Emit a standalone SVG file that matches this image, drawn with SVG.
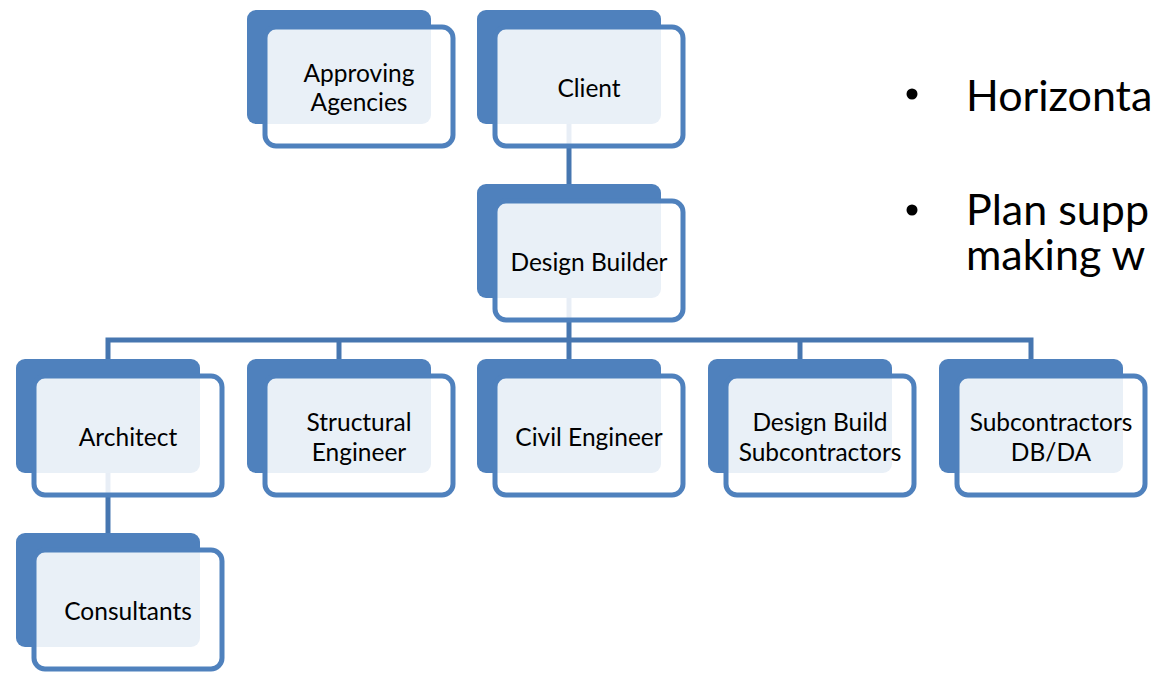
<svg xmlns="http://www.w3.org/2000/svg" width="1152" height="678" viewBox="0 0 1152 678">
  <style>
    .back { fill: #4F81BD; }
    .front { fill: #FFFFFF; fill-opacity: 0.88; stroke: #4F81BD; stroke-width: 5; }
    .link { fill: none; stroke: #4676B0; stroke-width: 5; }
    .label { font-family: Lato, "Liberation Sans", sans-serif; font-size: 24.5px; fill: #000000; text-anchor: middle; dominant-baseline: central; }
    .bullet-text { font-family: Lato, "Liberation Sans", sans-serif; font-size: 43px; fill: #000000; }
  </style>
  <rect width="1152" height="678" fill="#FFFFFF"/>

  <!-- back plates -->
  <g id="plates">
    <rect class="back" x="247" y="10" width="184" height="114" rx="9"/>
    <rect class="back" x="477" y="10" width="184" height="114" rx="9"/>
    <rect class="back" x="477" y="184" width="184" height="114" rx="9"/>
    <rect class="back" x="16" y="359" width="184" height="114" rx="9"/>
    <rect class="back" x="247" y="359" width="184" height="114" rx="9"/>
    <rect class="back" x="477" y="359" width="184" height="114" rx="9"/>
    <rect class="back" x="708" y="359" width="184" height="114" rx="9"/>
    <rect class="back" x="939" y="359" width="184" height="114" rx="9"/>
    <rect class="back" x="16" y="533" width="184" height="114" rx="9"/>
  </g>

  <!-- connectors -->
  <g id="connectors">
    <path class="link" d="M569 124 V184"/>
    <path class="link" d="M569 298 V340"/>
    <path class="link" d="M108 359 V340 H1031 V359"/>
    <path class="link" d="M339 340 V359"/>
    <path class="link" d="M569 340 V359"/>
    <path class="link" d="M800 340 V359"/>
    <path class="link" d="M108 473 V533"/>
  </g>

  <g id="approving-agencies">
    <rect class="front" x="265" y="27" width="188" height="119" rx="11"/>
    <text class="label" x="359" y="72">Approving</text>
    <text class="label" x="359" y="101">Agencies</text>
  </g>
  <g id="client">
    <rect class="front" x="495" y="27" width="188" height="119" rx="11"/>
    <text class="label" x="589" y="87">Client</text>
  </g>
  <g id="design-builder">
    <rect class="front" x="495" y="201" width="188" height="119" rx="11"/>
    <text class="label" x="589" y="261">Design Builder</text>
  </g>
  <g id="architect">
    <rect class="front" x="34" y="376" width="188" height="119" rx="11"/>
    <text class="label" x="128" y="436">Architect</text>
  </g>
  <g id="structural-engineer">
    <rect class="front" x="265" y="376" width="188" height="119" rx="11"/>
    <text class="label" x="359" y="421">Structural</text>
    <text class="label" x="359" y="451">Engineer</text>
  </g>
  <g id="civil-engineer">
    <rect class="front" x="495" y="376" width="188" height="119" rx="11"/>
    <text class="label" x="589" y="436">Civil Engineer</text>
  </g>
  <g id="design-build-subcontractors">
    <rect class="front" x="726" y="376" width="188" height="119" rx="11"/>
    <text class="label" x="820" y="421">Design Build</text>
    <text class="label" x="820" y="451">Subcontractors</text>
  </g>
  <g id="subcontractors-dbda">
    <rect class="front" x="957" y="376" width="188" height="119" rx="11"/>
    <text class="label" x="1051" y="421">Subcontractors</text>
    <text class="label" x="1051" y="451">DB/DA</text>
  </g>
  <g id="consultants">
    <rect class="front" x="34" y="550" width="188" height="119" rx="11"/>
    <text class="label" x="128" y="610">Consultants</text>
  </g>

  <!-- bullet text on the right -->
  <g id="notes">
    <circle cx="912" cy="94" r="5.5" fill="#000000"/>
    <text class="bullet-text" x="966" y="111">Horizonta</text>
    <circle cx="912" cy="210" r="5.5" fill="#000000"/>
    <text class="bullet-text" x="966" y="225">Plan supp</text>
    <text class="bullet-text" x="966" y="270">making w</text>
  </g>
</svg>
